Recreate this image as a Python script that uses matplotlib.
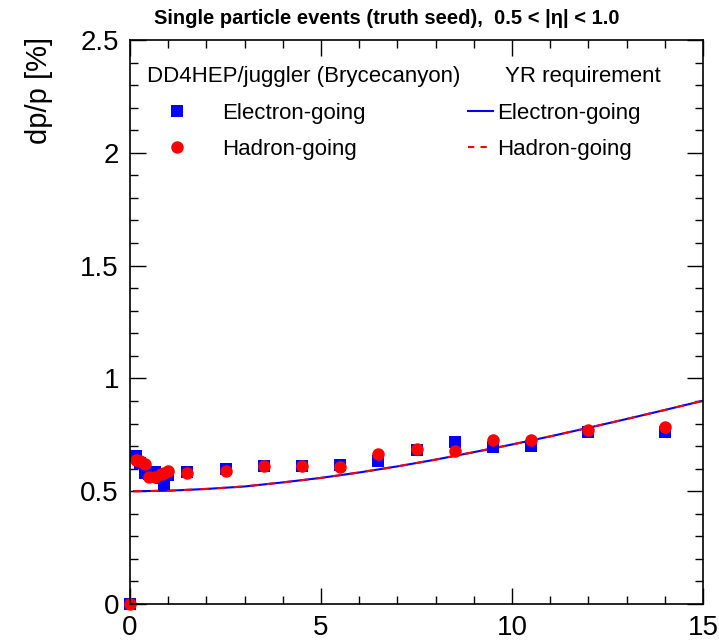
import matplotlib
matplotlib.use("Agg")
import matplotlib.pyplot as plt
from matplotlib.lines import Line2D
from matplotlib.ticker import MultipleLocator, FuncFormatter

plt.rcParams["font.family"] = ["Liberation Sans", "DejaVu Sans"]

# momentum points and measured resolution (dp/p in %)
p_pts = [0.0, 0.15, 0.25, 0.4, 0.5, 0.65, 0.8, 0.9, 1.0, 1.5, 2.5, 3.5, 4.5,
         5.5, 6.5, 7.5, 8.5, 9.5, 10.5, 12.0, 14.0]
dp_electron = [0.0, 0.655, 0.625, 0.58, 0.575, 0.585, 0.56, 0.53, 0.57, 0.587,
               0.60, 0.61, 0.613, 0.616, 0.635, 0.683, 0.72, 0.695, 0.70, 0.764, 0.764]
dp_hadron = [0.0, 0.64, 0.635, 0.62, 0.562, 0.565, 0.575, 0.58, 0.59, 0.579,
             0.59, 0.611, 0.61, 0.607, 0.665, 0.685, 0.678, 0.727, 0.727, 0.771, 0.786]

# YR requirement curve
p_yr = [0.1, 1, 2, 3, 4, 5, 6, 7, 8, 9, 10, 11, 12, 13, 14, 15]
dp_yr = [0.50, 0.502, 0.51, 0.521, 0.539, 0.559, 0.583, 0.61, 0.64, 0.673,
         0.707, 0.743, 0.781, 0.82, 0.86, 0.901]

labels = ["Electron-going", "Hadron-going"]

fig = plt.figure(figsize=(7.19, 6.44), dpi=100)
ax = fig.add_axes([130 / 719, 40 / 644, 573 / 719, 564 / 644])

ax.plot(p_yr, dp_yr, color="blue", lw=1.5)
ax.plot(p_yr, dp_yr, color="red", lw=1.5, dashes=(4, 4))
ax.plot(p_pts, dp_electron, "s", color="blue", ms=8.5, mew=0, clip_on=False)
ax.plot(p_pts, dp_hadron, "o", color="red", ms=9, mew=0, clip_on=False)

ax.set_xlim(0, 15)
ax.set_ylim(0, 2.5)
ax.xaxis.set_major_locator(MultipleLocator(5))
ax.xaxis.set_minor_locator(MultipleLocator(1))
ax.yaxis.set_major_locator(MultipleLocator(0.5))
ax.yaxis.set_minor_locator(MultipleLocator(0.1))
ax.tick_params(which="both", direction="in", top=True, right=True, width=1)
ax.tick_params(which="major", length=11.5, labelsize=20, pad=8)
ax.tick_params(which="minor", length=5.8)
ax.xaxis.set_major_formatter(FuncFormatter(lambda v, _: f"{v:g}"))
ax.yaxis.set_major_formatter(FuncFormatter(lambda v, _: f"{v:g}"))
for s in ax.spines.values():
    s.set_linewidth(1.2)

ax.set_ylabel("dp/p [%]", fontsize=21)
ax.yaxis.set_label_coords(-0.135, 0.91)

fig.text(0.538, 0.972, "Single particle events (truth seed),  0.5 < |η| < 1.0",
         ha="center", va="center", fontsize=14.5, fontweight="bold")

# legend headers
ax.text(0.0297, 0.936, "DD4HEP/juggler (Brycecanyon)", transform=ax.transAxes,
        ha="left", va="center", fontsize=16)
ax.text(0.654, 0.936, "YR requirement", transform=ax.transAxes,
        ha="left", va="center", fontsize=16)

h_left = [Line2D([], [], ls="none", marker="s", color="blue", ms=8.5, mew=0),
          Line2D([], [], ls="none", marker="o", color="red", ms=9, mew=0)]
h_right = [Line2D([], [], color="blue", lw=1.5),
           Line2D([], [], color="red", lw=1.5, dashes=(3, 3))]

leg1 = ax.legend(h_left, labels, loc="upper left", bbox_to_anchor=(0.0297, 0.889),
                 frameon=False, fontsize=16, handlelength=2.7, handletextpad=0.68,
                 labelspacing=0.68, borderpad=0, borderaxespad=0)
ax.add_artist(leg1)
ax.legend(h_right, labels, loc="upper left", bbox_to_anchor=(0.59, 0.889),
          frameon=False, fontsize=16, handlelength=1.13, handletextpad=0.18,
          labelspacing=0.68, borderpad=0, borderaxespad=0)

fig.savefig("out.png", dpi=100)
